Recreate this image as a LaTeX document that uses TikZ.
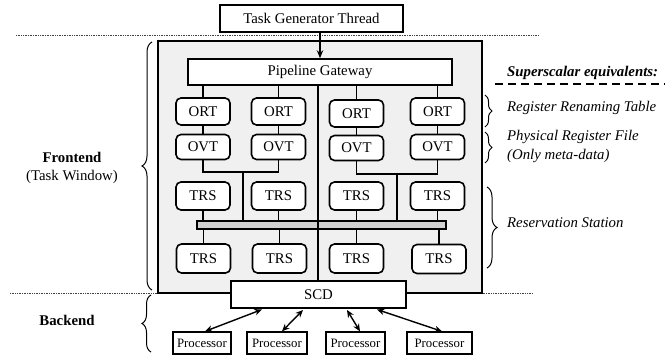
\documentclass[tikz,border=0pt]{standalone}
\usepackage{fontspec}
\setmainfont{Liberation Serif}
\usetikzlibrary{arrows.meta,decorations.pathreplacing,calc}
\newcommand\dgsize{\fontsize{14.8}{17}\selectfont}
\newcommand\procsize{\fontsize{12.8}{15}\selectfont}
\begin{document}
\begin{tikzpicture}[x=1pt,y=-1pt,
  every node/.style={inner sep=0pt, font=\dgsize},
  sqbox/.style={draw, line width=1.6pt, fill=white},
  rbox/.style={draw, line width=1.6pt, fill=white, rounded corners=5pt, minimum width=54pt},
  pbox/.style={draw, line width=1.3pt, fill=white, minimum height=22pt, font=\procsize},
  wire/.style={line width=1.3pt},
  dbl/.style={line width=1.4pt, {Stealth[length=7.5pt,width=6.5pt]}-{Stealth[length=7.5pt,width=6.5pt]}},
  sep/.style={densely dotted, line width=0.7pt, black!75},
  brc/.style={decorate, decoration={brace, amplitude=#1}, line width=1pt},
  side/.style={anchor=west, font=\dgsize\itshape},
  tag/.style={font=\dgsize\bfseries}]
\useasboundingbox (0,0) rectangle (665,361);

% separators between the thread, the frontend and the backend
\draw[sep] (16,35) -- (538,35);
\draw[sep] (10,293) -- (532,293);

% frontend window
\node[draw, line width=1.2pt, fill=black!6, minimum width=324pt, minimum height=252pt] (win) at (320,167) {};

% top level
\node[sqbox, minimum width=183pt, minimum height=27pt] (tgt) at (311.5,18.5) {Task Generator Thread};
\node[sqbox, minimum width=264pt, minimum height=26pt] (gw) at (320,72) {Pipeline Gateway};

% ORT row
\node[rbox, minimum height=27pt] (ort1) at (203,111.5) {ORT};
\node[rbox, minimum height=27pt] (ort2) at (278.5,111.5) {ORT};
\node[rbox, minimum height=27pt] (ort3) at (356.5,113.5) {ORT};
\node[rbox, minimum height=27pt] (ort4) at (437.5,111.5) {ORT};

% OVT row
\node[rbox, minimum height=25pt] (ovt1) at (203,147) {OVT};
\node[rbox, minimum height=25pt] (ovt2) at (278.5,147) {OVT};
\node[rbox, minimum height=25pt] (ovt3) at (356.5,148) {OVT};
\node[rbox, minimum height=25pt] (ovt4) at (437.5,147) {OVT};

% upper TRS row
\node[rbox, minimum height=28pt] (ta1) at (203,196) {TRS};
\node[rbox, minimum height=28pt] (ta2) at (278.5,196) {TRS};
\node[rbox, minimum height=28pt] (ta3) at (356.5,196) {TRS};
\node[rbox, minimum height=28pt] (ta4) at (437.5,196) {TRS};

% shared bus
\node[draw, line width=1.2pt, fill=black!18, minimum width=249pt, minimum height=8pt] (bus) at (321.5,225) {};

% lower TRS row
\node[rbox, minimum height=29pt] (tb1) at (203.5,258.5) {TRS};
\node[rbox, minimum height=29pt] (tb2) at (279.5,258.5) {TRS};
\node[rbox, minimum height=29pt] (tb3) at (356.5,258.5) {TRS};
\node[rbox, minimum height=29pt] (tb4) at (439,259) {TRS};

% dispatcher and processors
\node[sqbox, minimum width=175pt, minimum height=27pt] (scd) at (318.5,294.5) {SCD};
\node[pbox, minimum width=58pt] (p1) at (202,343) {Processor};
\node[pbox, minimum width=60pt] (p2) at (277,343) {Processor};
\node[pbox, minimum width=59pt] (p3) at (355.5,343) {Processor};
\node[pbox, minimum width=65pt] (p4) at (439.5,343) {Processor};

% helper coordinates
\coordinate (feed) at (320,0);
\coordinate (mid) at (318,0);
\coordinate (jl) at (243,172);
\coordinate (jr) at (397,174);
\coordinate (s1) at (262,309.5);
\coordinate (s2) at (303,310);
\coordinate (s3) at (347,310);
\coordinate (s4) at (377,309.5);

% connectors
\draw[wire, -{Stealth[length=8pt,width=6.5pt]}] (tgt.south -| feed) -- (gw.north -| feed);
\draw[wire] (gw.south -| mid) -- (scd.north -| mid);
\foreach \i in {1,2,3,4}{
  \draw[wire] (gw.south -| ort\i.north) -- (ort\i.north);
  \draw[wire] (ort\i.south) -- (ovt\i.north -| ort\i.south);
  \draw[wire] (ta\i.south) -- (bus.north -| ta\i.south);
  \draw[wire] (bus.south -| tb\i.north) -- (tb\i.north);
}
\draw[wire] (ovt1.south) |- (jl) -| (ovt2.south);
\draw[wire] (jl) -- (jl |- bus.north);
\draw[wire] (ovt3.south) |- (jr) -| (ovt4.south);
\draw[wire] (jr) -- (jr |- bus.north);

\draw[dbl] (s1) -- ($(p1.north)+(3,0)$);
\draw[dbl] (s2) -- ($(p2.north)+(5,0)$);
\draw[dbl] (s3) -- ($(p3.north)+(4.5,0)$);
\draw[dbl] (s4) -- ($(p4.north)+(2.5,0)$);

% left braces and labels
\draw[brc=10pt] (152,290) -- (152,42);
\draw[brc=9pt] (151,352) -- (151,295);
\node[tag] (fe) at (72,157) {Frontend};
\node (tw) at (72,177) {(Task Window)};
\node[tag] (be) at (67,320) {Backend};

% right braces and labels
\node[side, font=\dgsize\bfseries\itshape] (hd) at (507,73) {Superscalar equivalents:};
\draw[line width=1.3pt, dash pattern=on 8pt off 5pt] (495,84) -- (665,84);
\draw[brc=7pt] (485,95) -- (485,127);
\draw[brc=7pt] (485,132) -- (485,163);
\draw[brc=10pt] (487,187) -- (487,268);
\node[side] (rrt) at (507,108) {Register Renaming Table};
\node[side] (prf) at (507,137) {Physical Register File};
\node[side] (omd) at (507,156) {(Only meta-data)};
\node[side] (rs) at (507,223) {Reservation Station};
\end{tikzpicture}
\end{document}
